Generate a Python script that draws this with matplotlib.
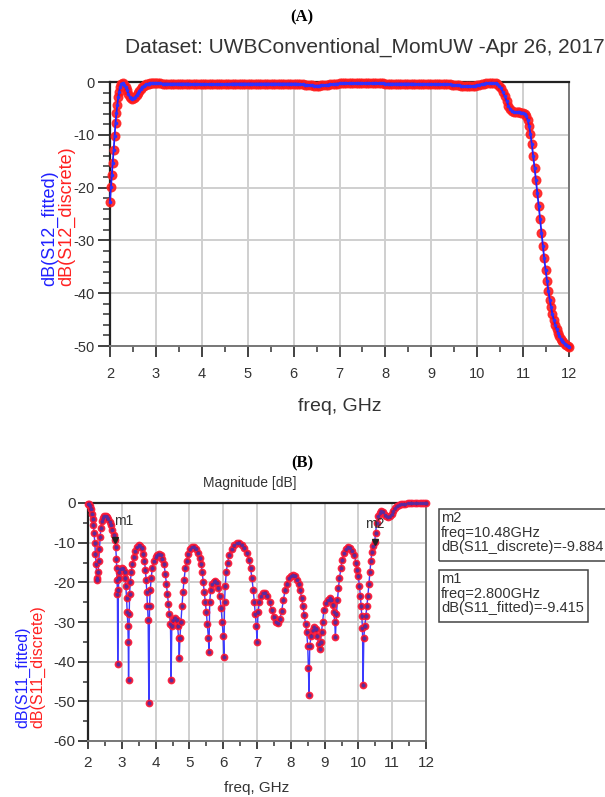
import numpy as np
import matplotlib.pyplot as plt
from matplotlib.ticker import MultipleLocator
from matplotlib.patches import Rectangle

plt.rcParams['font.family'] = ['Liberation Sans', 'DejaVu Sans']
plt.rcParams['axes.unicode_minus'] = False

# ---------------- (A) dB(S12) ----------------
# rising edge 2.0 - 3.0 GHz
s12_freq_lo = [2.00, 2.02, 2.04, 2.06, 2.08, 2.10, 2.12, 2.14, 2.16, 2.18, 2.20, 2.22,
               2.25, 2.28, 2.31, 2.34, 2.37, 2.40, 2.43, 2.46, 2.49, 2.52, 2.55, 2.58,
               2.61, 2.64, 2.67, 2.70, 2.73, 2.76, 2.79, 2.82, 2.85, 2.88, 2.91, 2.94, 2.97]
s12_db_lo = [-22.7, -19.9, -17.6, -15.3, -12.8, -10.2, -7.8, -5.9, -4.3, -2.9, -1.8, -0.9,
             -0.3, -0.2, -0.5, -1.0, -1.6, -2.3, -2.8, -3.1, -3.2, -3.1, -2.8, -2.5,
             -2.1, -1.7, -1.3, -1.0, -0.8, -0.6, -0.45, -0.35, -0.3, -0.25, -0.25, -0.25, -0.25]

# pass band, 50 MHz step from 3.0 to 10.4 GHz
s12_freq_mid = np.round(np.arange(3.0, 10.401, 0.05), 2)
s12_db_mid = [
    -0.25, -0.25, -0.25, -0.3, -0.3, -0.3, -0.3, -0.3, -0.3, -0.3,
    -0.3, -0.3, -0.3, -0.3, -0.3, -0.35, -0.35, -0.35, -0.35, -0.35,   # 3 GHz
    -0.4, -0.4, -0.4, -0.45, -0.45, -0.45, -0.45, -0.4, -0.4, -0.4,
    -0.35, -0.35, -0.35, -0.3, -0.3, -0.3, -0.3, -0.3, -0.3, -0.3,     # 4 GHz
    -0.3, -0.3, -0.3, -0.3, -0.3, -0.3, -0.3, -0.3, -0.3, -0.3,
    -0.3, -0.3, -0.3, -0.3, -0.3, -0.3, -0.3, -0.3, -0.3, -0.3,        # 5 GHz
    -0.3, -0.3, -0.35, -0.4, -0.45, -0.5, -0.55, -0.6, -0.65, -0.7,
    -0.7, -0.7, -0.65, -0.6, -0.55, -0.5, -0.45, -0.4, -0.35, -0.3,    # 6 GHz
    -0.25, -0.25, -0.2, -0.2, -0.2, -0.2, -0.2, -0.2, -0.2, -0.2,
    -0.2, -0.2, -0.2, -0.2, -0.2, -0.2, -0.25, -0.25, -0.25, -0.25,    # 7 GHz
    -0.3, -0.3, -0.3, -0.3, -0.3, -0.3, -0.3, -0.3, -0.3, -0.3,
    -0.3, -0.3, -0.3, -0.35, -0.35, -0.35, -0.35, -0.35, -0.35, -0.35,  # 8 GHz
    -0.35, -0.35, -0.4, -0.4, -0.4, -0.4, -0.4, -0.4, -0.45, -0.5,
    -0.55, -0.6, -0.65, -0.7, -0.75, -0.8, -0.8, -0.8, -0.75, -0.7,    # 9 GHz
    -0.6, -0.5, -0.4, -0.3, -0.25, -0.2, -0.2, -0.2, -0.2,             # 10 GHz
]

# upper band edge 10.44 - 12 GHz
s12_freq_hi = [10.44, 10.48, 10.52, 10.56, 10.60, 10.64, 10.68, 10.72, 10.76, 10.80,
               10.84, 10.88, 10.92, 10.96, 11.00, 11.04, 11.07, 11.10, 11.13, 11.16,
               11.19, 11.22, 11.25, 11.28, 11.31, 11.34, 11.37, 11.40, 11.43, 11.46,
               11.49, 11.52, 11.55, 11.58, 11.61, 11.64, 11.67, 11.70, 11.73, 11.76,
               11.79, 11.82, 11.85, 11.88, 11.91, 11.94, 11.97, 12.00]
s12_db_hi = [-0.4, -0.7, -1.2, -1.9, -2.7, -3.6, -4.5, -5.1, -5.5, -5.7,
             -5.7, -5.7, -5.7, -5.8, -5.8, -6.0, -6.4, -7.2, -8.3, -9.8,
             -11.8, -14.0, -16.3, -18.6, -21.0, -23.5, -26.0, -28.6, -31.1, -33.4,
             -35.6, -37.6, -39.5, -41.2, -42.7, -44.0, -45.1, -46.0, -46.8, -47.5,
             -48.1, -48.6, -49.0, -49.3, -49.6, -49.8, -50.0, -50.2]

# ---------------- (B) dB(S11) ----------------
s11_freq = [
    2.00, 2.03, 2.06, 2.09, 2.12, 2.14, 2.16, 2.18, 2.20, 2.22, 2.24, 2.26,
    2.28, 2.30, 2.32, 2.34, 2.36, 2.38, 2.41, 2.44, 2.48, 2.52, 2.56, 2.60, 2.64, 2.68,
    2.72, 2.76, 2.80, 2.82, 2.84, 2.85, 2.86, 2.87, 2.88,
    2.90, 2.91, 2.93, 2.96, 3.00, 3.04, 3.08, 3.10, 3.12, 3.14, 3.16, 3.18, 3.19, 3.20,
    3.22, 3.23, 3.25, 3.28, 3.31, 3.35, 3.40, 3.45, 3.50, 3.55, 3.60, 3.64, 3.67, 3.70,
    3.72, 3.74, 3.76, 3.78, 3.80,
    3.82, 3.84, 3.87, 3.90, 3.95, 4.00, 4.05, 4.10, 4.15, 4.20, 4.25, 4.29, 4.32, 4.35,
    4.38, 4.41, 4.44, 4.46,
    4.48, 4.52, 4.57, 4.62, 4.65, 4.68, 4.70,
    4.72, 4.75, 4.78, 4.81, 4.84, 4.88, 4.92, 4.97, 5.02, 5.08, 5.14, 5.20, 5.26, 5.31,
    5.35, 5.38, 5.41, 5.44, 5.47, 5.50, 5.53, 5.56, 5.58,
    5.60, 5.63, 5.67, 5.72, 5.77, 5.82, 5.86, 5.90, 5.94, 5.97, 6.00, 6.02,
    6.04, 6.06, 6.09, 6.13, 6.18, 6.25, 6.32, 6.40, 6.48, 6.56, 6.63, 6.70, 6.76, 6.81,
    6.85, 6.89, 6.92, 6.95, 6.98, 7.00,
    7.03, 7.07, 7.12, 7.18, 7.24, 7.30, 7.37, 7.44, 7.50, 7.56, 7.62, 7.68, 7.73, 7.78,
    7.83, 7.88, 7.94, 8.00, 8.06, 8.12, 8.18, 8.23, 8.28, 8.32, 8.36, 8.40, 8.44, 8.47,
    8.50, 8.52, 8.54,
    8.56, 8.60, 8.65, 8.70, 8.74, 8.78, 8.82, 8.85,
    8.88, 8.91, 8.94, 8.98, 9.03, 9.09, 9.15, 9.20, 9.24, 9.27, 9.30, 9.32,
    9.35, 9.38, 9.41, 9.44, 9.48, 9.52, 9.57, 9.63, 9.70, 9.76, 9.82, 9.88, 9.93, 9.97,
    10.00, 10.03, 10.06, 10.08, 10.10, 10.12, 10.14,
    10.16, 10.19, 10.22, 10.25, 10.28, 10.31, 10.34, 10.37, 10.40, 10.44, 10.48, 10.51,
    10.54, 10.58, 10.63, 10.68, 10.73, 10.78, 10.83, 10.88, 10.93, 10.98, 11.03, 11.08,
    11.14, 11.20, 11.26, 11.32, 11.39, 11.46, 11.53, 11.60, 11.67, 11.74, 11.81, 11.88,
    11.94, 12.00,
]
s11_db = [
    -0.2, -0.3, -0.8, -1.6, -2.8, -4.0, -5.5, -7.5, -10.0, -12.8, -15.5, -19.0,
    -19.5, -17.5, -14.5, -11.5, -8.5, -6.3, -4.6, -3.7, -3.3, -3.3, -3.5, -4.0, -4.7, -5.6,
    -6.8, -8.0, -9.4, -11.2, -14.0, -16.5, -19.5, -23.0, -40.6,
    -22.0, -19.0, -17.5, -16.7, -16.4, -16.6, -17.5, -19.0, -21.0, -24.0, -27.5, -31.0, -35.0, -44.5,
    -28.0, -23.0, -20.0, -17.5, -15.5, -13.5, -12.0, -11.0, -10.7, -10.8, -11.4, -12.8, -14.5, -17.0,
    -19.5, -22.5, -26.0, -29.5, -50.4,
    -26.0, -22.0, -19.0, -16.5, -14.5, -13.5, -13.0, -12.9, -13.2, -14.2, -15.5, -18.0, -20.5, -23.0,
    -25.5, -28.0, -30.5, -44.5,
    -31.0, -29.5, -29.0, -29.5, -31.0, -34.0, -39.0,
    -34.0, -30.0, -26.0, -22.5, -19.5, -16.5, -14.5, -12.8, -11.7, -11.2, -11.1, -11.5, -12.5, -13.8,
    -15.5, -17.5, -20.0, -22.5, -25.0, -27.5, -30.5, -34.0, -37.5,
    -25.0, -22.0, -20.5, -19.8, -19.7, -20.2, -21.5, -23.5, -26.5, -30.0, -33.5, -38.8,
    -25.0, -21.0, -17.5, -15.0, -13.0, -11.5, -10.6, -10.2, -10.2, -10.6, -11.4, -12.6, -14.3, -16.5,
    -19.0, -22.0, -25.0, -28.0, -31.0, -35.0,
    -27.5, -25.0, -23.5, -22.7, -22.8, -23.5, -25.0, -27.0, -28.8, -29.9, -30.2, -29.3, -27.2, -24.5,
    -22.0, -20.3, -19.0, -18.4, -18.2, -18.5, -19.3, -20.5, -22.0, -24.0, -26.0, -28.3, -30.5, -32.5,
    -36.0, -41.5, -48.4,
    -36.0, -33.5, -32.0, -31.3, -31.8, -33.5, -35.5, -36.8,
    -35.0, -32.5, -30.0, -27.0, -25.3, -24.4, -24.0, -24.5, -25.8, -27.5, -30.0, -33.8,
    -28.0, -24.5, -21.5, -19.0, -16.5, -14.3, -12.6, -11.6, -11.2, -11.3, -12.0, -13.2, -15.0, -17.0,
    -18.5, -21.0, -23.5, -26.0, -28.5, -31.5, -45.8,
    -34.0, -31.0, -28.5, -26.0, -23.5, -20.5, -17.5, -14.5, -12.3, -10.8, -9.9, -7.5,
    -5.0, -3.4, -2.5, -2.1, -2.3, -2.9, -3.4, -3.6, -3.4, -2.8, -2.0, -1.3,
    -0.8, -0.5, -0.3, -0.2, -0.15, -0.1, -0.1, -0.1, -0.05, -0.05, 0.0, 0.0,
    0.0, 0.0,
]

m1_freq, m1_db = 2.8, -9.415
m2_freq, m2_db = 10.48, -9.884

W, H = 605, 797
fig = plt.figure(figsize=(W / 100, H / 100), dpi=100)


def fx(px):
    return px / W


def fy(py):
    return 1 - py / H


def style_axes(ax, ymin, yminor, labsize, xlen, ylen, xpad, ypad):
    ax.set_xlim(2, 12)
    ax.set_ylim(ymin, 0)
    ax.set_xticks(range(2, 13))
    ax.xaxis.set_minor_locator(MultipleLocator(0.5))
    ax.yaxis.set_major_locator(MultipleLocator(10))
    ax.yaxis.set_minor_locator(MultipleLocator(yminor))
    ax.set_axisbelow(True)
    ax.grid(True, which='major', color='#cfcfcf', lw=1.4)
    ax.tick_params(which='both', color='#333333', labelcolor='#333333', labelsize=labsize)
    ax.tick_params(axis='x', which='major', direction='out', length=xlen, width=1.3, pad=xpad)
    ax.tick_params(axis='y', which='major', direction='out', length=ylen, width=1.3, pad=ypad)
    ax.tick_params(axis='x', which='minor', direction='out', length=xlen * 0.55, width=1.1)
    ax.tick_params(axis='y', which='minor', direction='out', length=ylen * 0.55, width=1.1)
    for side in ['left', 'top']:
        ax.spines[side].set_color('#222222')
        ax.spines[side].set_linewidth(1.6)
    for side in ['right', 'bottom']:
        ax.spines[side].set_color('#777777')
        ax.spines[side].set_linewidth(1.4)


# ----- top panel -----
ax1 = fig.add_axes([fx(110), fy(346), fx(569) - fx(110), fy(82) - fy(346)])
style_axes(ax1, -50, 2, 10.5, 8, 9, 7, 2)
f12 = np.concatenate([s12_freq_lo, s12_freq_mid, s12_freq_hi])
d12_discrete = np.concatenate([s12_db_lo, s12_db_mid, s12_db_hi])
d12_fitted = d12_discrete
ax1.plot(f12, d12_discrete, 'o', ms=6.2, color='#ff1010', mec='#ff2020', alpha=0.85,
         zorder=3, clip_on=False)
ax1.plot(f12, d12_fitted, '-', color='#2020ff', lw=1.3, zorder=4, clip_on=False)
ax1.plot(f12, d12_fitted, 'o', ms=1.6, color='#3030ff', zorder=4, clip_on=False)
ax1.set_xlabel('freq, GHz', fontsize=14, color='#333333', labelpad=12)

fig.text(fx(302), fy(17), '(A)', ha='center', va='center', fontsize=12,
         fontweight='bold', family='Liberation Serif')
fig.text(fx(365), fy(47), 'Dataset: UWBConventional_MomUW -Apr 26, 2017',
         ha='center', va='center', fontsize=15, color='#333333')
fig.text(fx(50), fy(286), 'dB(S12_fitted)', rotation=90, ha='center', va='bottom',
         fontsize=13, color='#2020ff')
fig.text(fx(67), fy(286), 'dB(S12_discrete)', rotation=90, ha='center', va='bottom',
         fontsize=13, color='#ff2020')

# ----- bottom panel -----
ax2 = fig.add_axes([fx(88), fy(741), fx(426) - fx(88), fy(503) - fy(741)])
style_axes(ax2, -60, 5, 11, 6, 7, 5, 2)
ax2.plot(s11_freq, s11_db, '-', color='#3a3aff', lw=1.0, zorder=3)
ax2.plot(s11_freq, s11_db, 'o', ms=4.6, mfc='#b3123c', mec='#ff1a3a', mew=1.0,
         alpha=0.9, zorder=4, clip_on=False)
ax2.plot(s11_freq, s11_db, 'o', ms=1.4, color='#5a2aa0', zorder=5, clip_on=False)
ax2.set_xlabel('freq, GHz', fontsize=11, color='#333333', labelpad=8)

ax2.plot([m1_freq], [m1_db], 'v', ms=5, color='#222222', zorder=6)
ax2.plot([m2_freq], [m2_db], 'v', ms=5, color='#222222', zorder=6)
ax2.text(2.78, -4.6, 'm1', fontsize=10, color='#333333', ha='left', va='center', zorder=7)
ax2.text(10.2, -5.3, 'm2', fontsize=10, color='#333333', ha='left', va='center', zorder=7)

fig.text(fx(302), fy(463), '(B)', ha='center', va='center', fontsize=12,
         fontweight='bold', family='Liberation Serif')
fig.text(fx(250), fy(483), 'Magnitude [dB]', ha='center', va='center', fontsize=10,
         color='#333333')
fig.text(fx(23), fy(728), 'dB(S11_fitted)', rotation=90, ha='center', va='bottom',
         fontsize=11.5, color='#2020ff')
fig.text(fx(38), fy(728), 'dB(S11_discrete)', rotation=90, ha='center', va='bottom',
         fontsize=11.5, color='#ff2020')

# marker readout boxes
fig.patches.append(Rectangle((fx(439), fy(561)), fx(700) - fx(439), fy(509) - fy(561),
                             transform=fig.transFigure, fill=False, ec='#444444', lw=1.1))
fig.patches.append(Rectangle((fx(439), fy(622)), fx(588) - fx(439), fy(570) - fy(622),
                             transform=fig.transFigure, fill=False, ec='#444444', lw=1.1))
fig.text(fx(441), fy(511), 'm2\nfreq=10.48GHz\ndB(S11_discrete)=-9.884', ha='left',
         va='top', fontsize=10.5, color='#333333', linespacing=1.05)
fig.text(fx(441), fy(572), 'm1\nfreq=2.800GHz\ndB(S11_fitted)=-9.415', ha='left',
         va='top', fontsize=10.5, color='#333333', linespacing=1.05)

fig.savefig('out.png', dpi=100)
